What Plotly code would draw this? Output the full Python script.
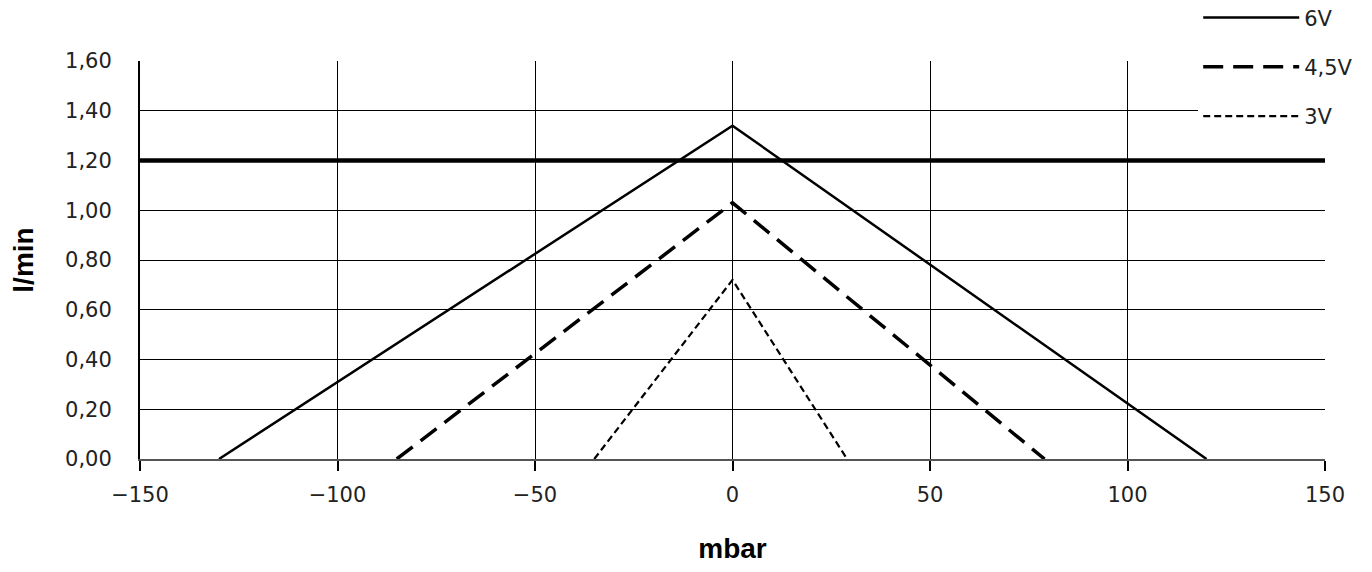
import plotly.graph_objects as go

# Data
series_names = ["6V", "4,5V", "3V"]
pressure_6v = [-130, 0, 120]
flow_6v = [0.0, 1.34, 0.0]
pressure_45v = [-85, 0, 79]
flow_45v = [0.0, 1.03, 0.0]
pressure_3v = [-35, 0, 29]
flow_3v = [0.0, 0.72, 0.0]
limit_flow = 1.20

x_ticks = [-150, -100, -50, 0, 50, 100, 150]
y_ticks = [0.0, 0.2, 0.4, 0.6, 0.8, 1.0, 1.2, 1.4, 1.6]

fig = go.Figure()

styles = [
    dict(width=2.5, dash="solid"),
    dict(width=3.5, dash="20px,10px"),
    dict(width=2.2, dash="7px,4px"),
]
data = [(pressure_6v, flow_6v), (pressure_45v, flow_45v), (pressure_3v, flow_3v)]
for name, (xs, ys), st in zip(series_names, data, styles):
    fig.add_trace(go.Scatter(
        x=xs, y=ys, mode="lines", name=name,
        legendgroup=name,
        line=dict(color="black", width=st["width"], dash=st["dash"]),
    ))

fig.add_hline(y=limit_flow, line=dict(color="black", width=4.5), layer="above")

tick_font = dict(family="DejaVu Sans", size=21, color="#222")

fig.update_layout(
    width=1356, height=556,
    margin=dict(l=132, r=39, t=53, b=105, autoexpand=False),
    plot_bgcolor="white", paper_bgcolor="white",
    separators=",.",
    showlegend=True,
    legend=dict(
        x=0.893, y=1.16, xanchor="left", yanchor="top",
        bgcolor="white", borderwidth=0,
        font=dict(family="DejaVu Sans", size=21, color="#222"),
        tracegroupgap=19,
        itemwidth=96,
    ),
    xaxis=dict(
        range=[-150, 150], tickvals=x_ticks,
        ticks="outside", ticklen=10, tickwidth=2, tickcolor="black",
        showgrid=True, gridcolor="black", gridwidth=1.2,
        showline=True, linecolor="#555", linewidth=2,
        zeroline=False, automargin=False,
        tickfont=tick_font,
        ticklabelstandoff=6,
        title=dict(text="<b>mbar</b>", font=dict(family="Liberation Sans", size=28, color="black"), standoff=38),
    ),
    yaxis=dict(
        range=[0, 1.6], tickvals=y_ticks, tickformat=".2f",
        ticks="", showgrid=True, gridcolor="black", gridwidth=1.2,
        showline=True, linecolor="black", linewidth=2,
        zeroline=False, automargin=False,
        tickfont=tick_font,
        ticklabelstandoff=22,
        title=dict(text="<b>l/min</b>", font=dict(family="Liberation Sans", size=28, color="black"), standoff=24),
    ),
)

fig.write_html("out.html")
